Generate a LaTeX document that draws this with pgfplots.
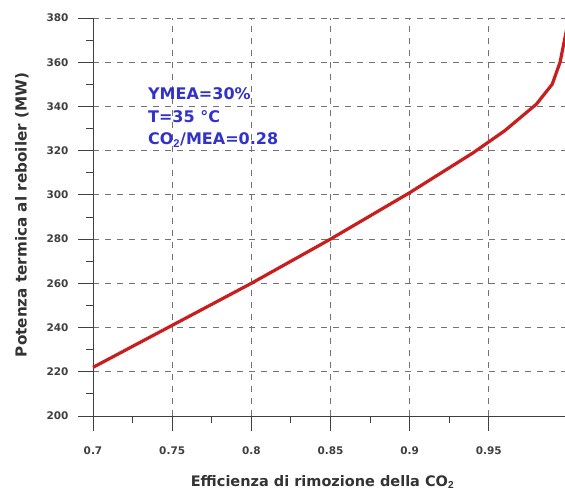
\documentclass[border=0pt]{standalone}
\usepackage{pgfplots}
\pgfplotsset{compat=1.18}
\usepackage{fontspec}
\setmainfont{Liberation Sans}
\newfontfamily\dvs{DejaVu Sans}
\begin{document}
\begin{tikzpicture}
\begin{axis}[
  scale only axis,
  width=475pt, height=398pt,
  xmin=0.7, xmax=1.0, ymin=200, ymax=380,
  axis lines=left,
  axis line style={-, black!75, line width=0.9pt},
  xtick={0.7,0.75,...,0.96},
  xticklabels={0.7,0.75,0.8,0.85,0.9,0.95},
  ytick={200,220,...,380},
  minor x tick num=1, minor y tick num=1,
  tick align=outside,
  major tick length=15pt, minor tick length=7pt,
  tick style={black!75, line width=0.9pt},
  grid=major,
  major grid style={black!55, line width=0.8pt, dash pattern=on 6pt off 6pt},
  /pgf/number format/assume math mode=true,
  ticklabel style={font=\dvs\bfseries\fontsize{10.5}{12}\selectfont, text=black!75},
  xticklabel style={yshift=-12pt},
  yticklabel style={xshift=-6pt},
  xlabel={\bfseries Efficienza di rimozione della CO$_\mathbf{2}$},
  ylabel={\bfseries Potenza termica al reboiler (MW)},
  xlabel style={font=\dvs\fontsize{14.5}{16}\selectfont, text=black!80, yshift=-14pt, xshift=-8pt},
  ylabel style={font=\dvs\fontsize{15.2}{17}\selectfont, text=black!80, yshift=11pt, xshift=2pt},
  clip=false,
]
\addplot[color={rgb,255:red,200;green,30;blue,30}, line width=3.2pt, line join=round] coordinates {
(0.70,222) (0.75,241) (0.80,260) (0.85,280) (0.90,301) (0.92,310) (0.94,319) (0.96,329) (0.98,341) (0.99,350) (0.995,360) (1.0,378)
};
\node[anchor=north west, align=left, text={rgb,255:red,50;green,50;blue,200}, font=\dvs\bfseries\fontsize{16}{22.5}\selectfont, inner sep=0pt] at (axis cs:0.7347,348.5) {YMEA=30\%\\T=35 °C\\CO$_\mathbf{2}$/MEA=0.28};
\end{axis}
\pgfresetboundingbox
\path ([xshift=-93pt,yshift=-74pt]current axis.south west) rectangle ([xshift=-3pt,yshift=18pt]current axis.north east);
\end{tikzpicture}
\end{document}
